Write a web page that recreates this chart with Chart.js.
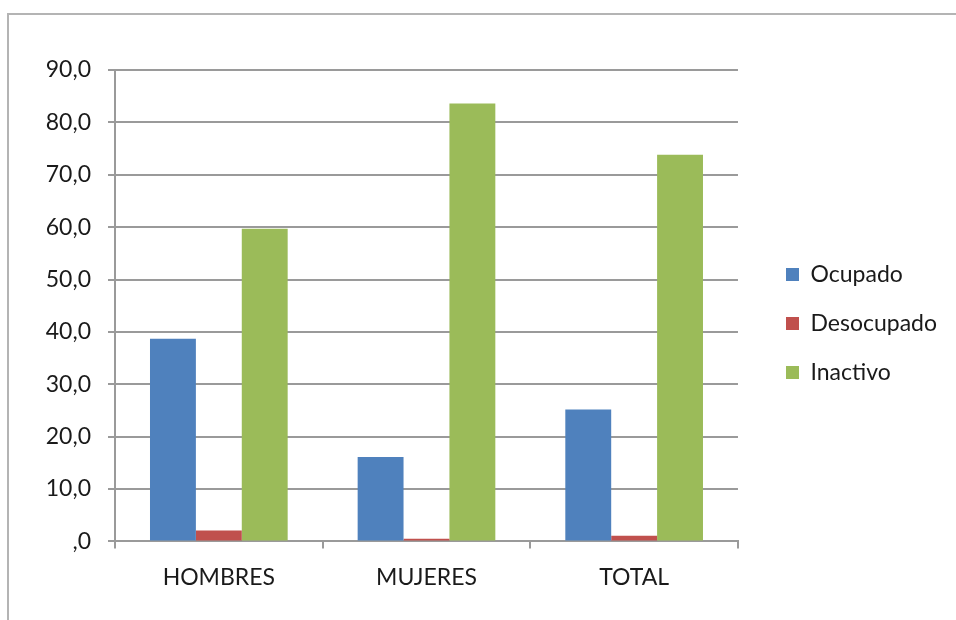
<!DOCTYPE html>
<html>
<head>
<meta charset="utf-8">
<script src="https://cdn.jsdelivr.net/npm/chart.js@4.4.1/dist/chart.umd.min.js"></script>
<style>
  html, body { margin: 0; padding: 0; background: #fff; }
  #wrap { position: relative; width: 956px; height: 620px; overflow: hidden; }
  #frame { position: absolute; left: 7px; top: 13px; width: 960px; height: 620px;
           border-top: 2px solid #b4b4b4; border-left: 2px solid #b4b4b4; box-sizing: border-box; }
  canvas { position: absolute; left: 0; top: 0; }
</style>
</head>
<body>
<div id="wrap">
  <div id="frame"></div>
  <canvas id="c" width="956" height="620"></canvas>
</div>
<script>
const categories = ['HOMBRES', 'MUJERES', 'TOTAL'];
const ocupado = [38.7, 16.1, 25.2];
const desocupado = [2.1, 0.5, 1.1];
const inactivo = [59.7, 83.6, 73.8];
const yTickLabels = [',0', '10,0', '20,0', '30,0', '40,0', '50,0', '60,0', '70,0', '80,0', '90,0'];

const FONT = 'Lato, "Open Sans", sans-serif';
const gridColor = '#9a9a9a';
const textColor = '#1a1a1a';

const legendShift = {
  id: 'legendShift',
  afterLayout(chart) {
    const lg = chart.legend;
    if (!lg) return;
    const pad = lg.options.labels.padding;
    const dx = 786 - pad - lg.left;
    lg.left += dx; lg.right += dx;
    const colH = lg.columnSizes && lg.columnSizes[0] ? lg.columnSizes[0].height : 0;
    const start = (lg.top + pad + lg.bottom - colH) / 2;
    const dy = 263 - start;
    lg.top += dy; lg.bottom += dy;
  }
};

new Chart(document.getElementById('c'), {
  type: 'bar',
  data: {
    labels: categories,
    datasets: [
      { label: 'Ocupado', data: ocupado, backgroundColor: '#4F81BD' },
      { label: 'Desocupado', data: desocupado, backgroundColor: '#C0504D' },
      { label: 'Inactivo', data: inactivo, backgroundColor: '#9BBB59' }
    ]
  },
  options: {
    responsive: false,
    animation: false,
    devicePixelRatio: 1,
    layout: { padding: { top: 70, left: 0, right: 31, bottom: 14 } },
    datasets: { bar: { barPercentage: 1.0, categoryPercentage: 0.663 } },
    plugins: {
      legend: {
        position: 'right',
        labels: {
          boxWidth: 13, boxHeight: 13, padding: 26,
          color: textColor,
          font: { family: FONT, size: 23 }
        }
      },
      tooltip: { enabled: false }
    },
    scales: {
      x: {
        grid: { display: true, drawOnChartArea: false, drawTicks: true, tickLength: 7, color: gridColor, lineWidth: 2, offset: true },
        border: { display: true, color: gridColor, width: 2 },
        ticks: { color: textColor, font: { family: FONT, size: 23 }, padding: 15 }
      },
      y: {
        min: 0, max: 90,
        afterFit(scale) { scale.width = 115; },
        grid: { color: gridColor, lineWidth: 2, tickLength: 7, drawTicks: true },
        border: { display: true, color: gridColor, width: 2 },
        ticks: {
          stepSize: 10,
          padding: 17,
          color: textColor,
          font: { family: FONT, size: 23 },
          callback: (v) => yTickLabels[Math.round(v / 10)]
        }
      }
    }
  },
  plugins: [legendShift]
});
</script>
</body>
</html>
